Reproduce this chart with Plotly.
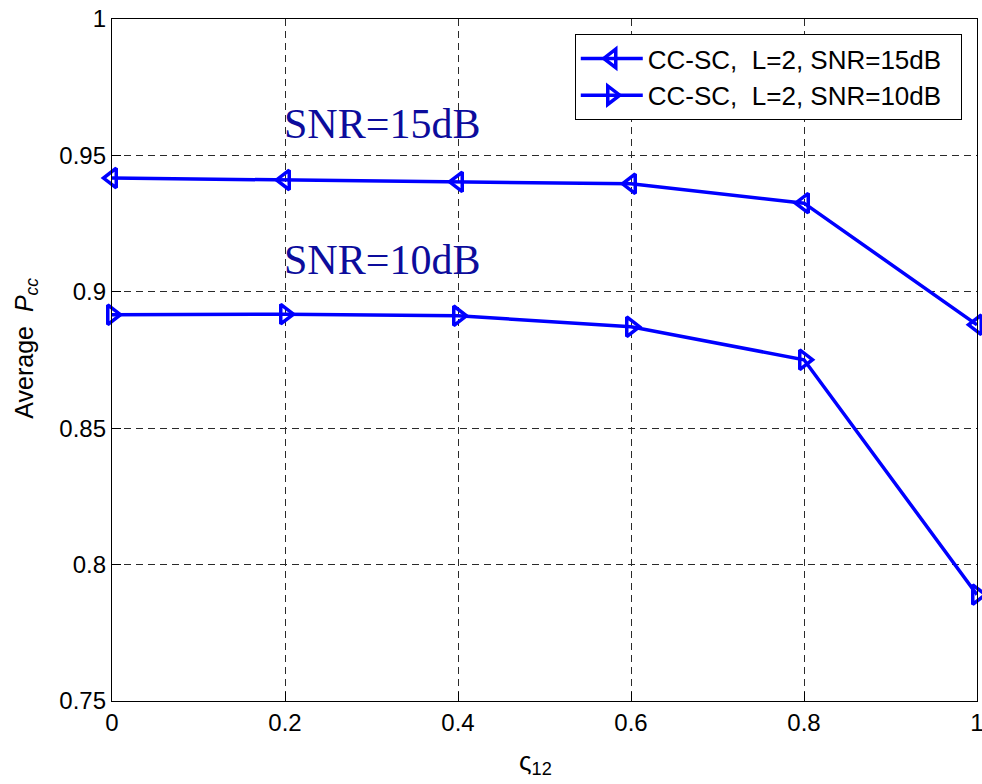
import plotly.graph_objects as go

x_vals = [0, 0.2, 0.4, 0.6, 0.8, 1.0]
snr15 = [0.9417, 0.9410, 0.9403, 0.9396, 0.9325, 0.8879]
snr10 = [0.8916, 0.8918, 0.8912, 0.8872, 0.8751, 0.7890]
names = ["CC-SC,\u00a0 L=2, SNR=15dB\u00a0\u00a0", "CC-SC,\u00a0 L=2, SNR=10dB\u00a0\u00a0"]
x_ticks = [0, 0.2, 0.4, 0.6, 0.8, 1]
x_ticklabels = ["0", "0.2", "0.4", "0.6", "0.8", "1"]
y_ticks = [0.75, 0.8, 0.85, 0.9, 0.95, 1]
y_ticklabels = ["0.75", "0.8", "0.85", "0.9", "0.95", "1"]

blue = "#0000ff"
fig = go.Figure()
fig.add_trace(go.Scatter(x=x_vals, y=snr15, name=names[0], mode="lines+markers",
                         line=dict(color=blue, width=3.5),
                         marker=dict(symbol="triangle-left-open", size=17, color=blue,
                                     line=dict(width=3.5, color=blue)),
                         cliponaxis=False))
fig.add_trace(go.Scatter(x=x_vals, y=snr10, name=names[1], mode="lines+markers",
                         line=dict(color=blue, width=3.5),
                         marker=dict(symbol="triangle-right-open", size=17, color=blue,
                                     line=dict(width=3.5, color=blue)),
                         cliponaxis=False))

tick_font = dict(family="Arial", size=24, color="black")

def axis(vals, labels, rng):
    return dict(range=rng, tickmode="array", tickvals=vals, ticktext=labels,
                showline=True, linecolor="black", linewidth=1.3, mirror=True,
                ticks="inside", ticklen=9, tickcolor="black", tickwidth=1,
                showgrid=True, gridcolor="#2a2a2a", griddash="7px,5px", gridwidth=1,
                zeroline=False, tickfont=tick_font, ticklabeloverflow="allow",
                automargin=False)

fig.add_annotation(x=0.196, y=0.9615, xref="x", yref="y", text="SNR=15dB", showarrow=False,
                   xanchor="left", yanchor="middle",
                   font=dict(family="Liberation Serif", size=42, color="#0c0c9c"))
fig.add_annotation(x=0.196, y=0.9115, xref="x", yref="y", text="SNR=10dB", showarrow=False,
                   xanchor="left", yanchor="middle",
                   font=dict(family="Liberation Serif", size=42, color="#0c0c9c"))

fig.add_annotation(x=0.49, y=-0.09, xref="paper", yref="paper", text="ς<sub>12</sub>",
                   showarrow=False, yanchor="middle",
                   font=dict(family="Arial", size=26, color="black"))
fig.add_annotation(x=-0.0995, y=0.518, xref="paper", yref="paper",
                   text="Average\u00a0 <i>P</i><sub><i>cc</i></sub>", textangle=-90,
                   showarrow=False, xanchor="center", yanchor="middle",
                   font=dict(family="Arial", size=25, color="black"))

fig.update_layout(
    width=982, height=784,
    font=dict(family="Arial", size=24, color="black"),
    margin=dict(l=112, r=5, t=19, b=83),
    paper_bgcolor="white", plot_bgcolor="white",
    xaxis=axis(x_ticks, x_ticklabels, [0, 1]),
    yaxis=axis(y_ticks, y_ticklabels, [0.75, 1]),
    legend=dict(x=0.535, y=0.978, xanchor="left", yanchor="top",
                bgcolor="white", bordercolor="black", borderwidth=1,
                font=dict(family="Arial", size=26, color="black"),
                tracegroupgap=0, itemwidth=62),
    showlegend=True,
)

fig.write_html("out.html")
